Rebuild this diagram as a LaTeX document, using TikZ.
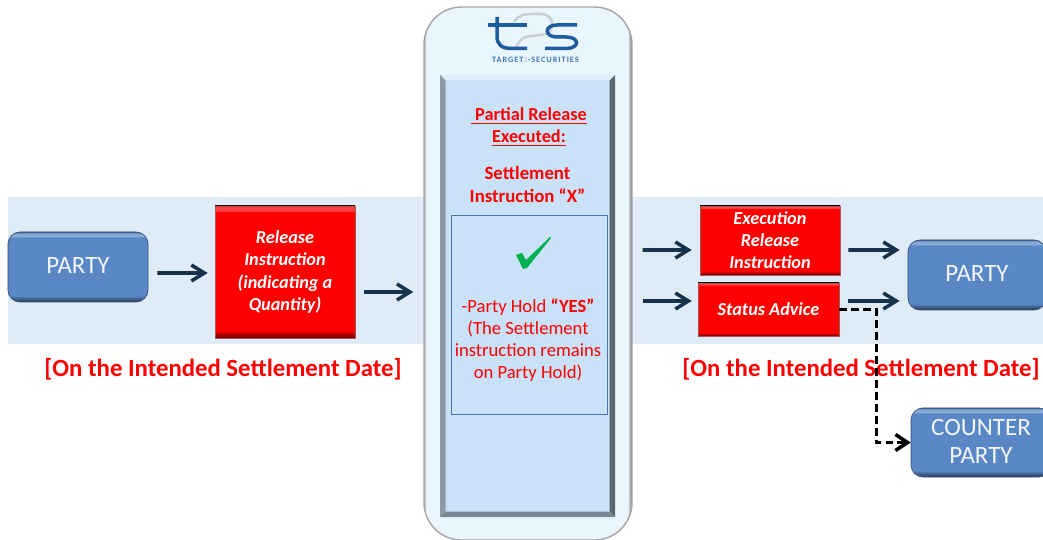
\documentclass[tikz,border=0pt]{standalone}
\usepackage{fontspec}
\setmainfont{Carlito}
\usepackage{tikz}
\usetikzlibrary{arrows.meta}

\definecolor{bandblue}{HTML}{DFEBF6}
\definecolor{panelblue}{HTML}{C9E2F8}
\definecolor{shellblue}{HTML}{EAF6FE}
\definecolor{partyblue}{HTML}{5A87C6}
\definecolor{arrownavy}{HTML}{17324D}
\definecolor{logoblue}{HTML}{1F5C9E}
\definecolor{logogrey}{HTML}{C8D0D8}
\definecolor{hardred}{HTML}{FF0000}
\definecolor{checkgreen}{HTML}{00B050}

\newcommand{\lifted}[1]{\raisebox{1.2pt}{#1}}

\pgfdeclareverticalshading{redbevel}{100bp}{color(0bp)=(red!45!black); color(25bp)=(red!45!black);
  color(26.8bp)=(red!70!black); color(27.4bp)=(hardred); color(72.8bp)=(hardred);
  color(73.2bp)=(red!75!white); color(74.6bp)=(red!75!white); color(75bp)=(red!60!black); color(100bp)=(red!60!black)}
\pgfdeclareverticalshading{bluebevel}{100bp}{color(0bp)=(partyblue!40!black); color(25bp)=(partyblue!40!black);
  color(28bp)=(partyblue!80!black); color(29.5bp)=(partyblue); color(71bp)=(partyblue);
  color(72bp)=(partyblue!70!white); color(74bp)=(partyblue!75!white); color(75bp)=(partyblue!75!black); color(100bp)=(partyblue!75!black)}
\pgfdeclarehorizontalshading{shellbevel}{100bp}{color(0bp)=(gray!60); color(25bp)=(gray!60);
  color(25.6bp)=(shellblue); color(74bp)=(shellblue);
  color(74.6bp)=(gray!80); color(75bp)=(gray); color(100bp)=(gray)}

\begin{document}
\begin{tikzpicture}
    \tikzset{partybox/.style={
      rectangle, rounded corners=0.24cm, draw=partyblue!60!black, shading=bluebevel,
      text=white!92!partyblue, align=center, inner sep=0pt,
      font=\fontsize{14.2pt}{16pt}\selectfont}}
    \tikzset{redbox/.style={
      rectangle, draw=red!35!gray, line width=0.3pt, shading=redbevel,
      text=white, align=center, inner sep=0pt,
      font=\fontsize{10.4pt}{12.6pt}\selectfont\bfseries\itshape}}
    \tikzset{datelabel/.style={
      text=hardred, font=\fontsize{14.1pt}{16pt}\selectfont\bfseries}}
    \tikzset{panelbox/.style={
      rectangle, inner sep=0pt, fill=panelblue, path picture={
        \coordinate (nw) at (path picture bounding box.north west);
        \coordinate (ne) at (path picture bounding box.north east);
        \coordinate (sw) at (path picture bounding box.south west);
        \coordinate (se) at (path picture bounding box.south east);
        \fill [white!45!panelblue] (nw) -- (ne) -- ([shift={(-0.11,-0.11)}]ne)
              -- ([shift={(0.11,-0.11)}]nw) -- cycle;
        \fill [panelblue!60!black!85!white] (nw) -- (sw) -- ([shift={(0.11,0.11)}]sw)
              -- ([shift={(0.11,-0.11)}]nw) -- cycle;
        \fill [panelblue!45!black] (ne) -- (se) -- ([shift={(-0.11,0.11)}]se)
              -- ([shift={(-0.11,-0.11)}]ne) -- cycle;
        \fill [panelblue!60!black] (sw) -- (se) -- ([shift={(-0.11,0.11)}]se)
              -- ([shift={(0.11,0.11)}]sw) -- cycle;}}}
    \tikzset{flow/.style={
      draw=arrownavy, line width=2pt, -{Straight Barb[length=2.6mm,width=3.2mm]}}}
    \tikzset{dashflow/.style={
      draw=black, line width=2pt, dash pattern=on 4.4pt off 2.4pt,
      -{Straight Barb[length=2.4mm,width=3.2mm]}}}

    \useasboundingbox (0, 0) rectangle (20.86, -10.8);

    % Background
    \path (10.51, -5.41) node [rectangle, fill=bandblue, minimum width=20.7cm,
          minimum height=2.94cm, inner sep=0pt] (band) {};

    % Platform
    \path (10.56, -5.47) node [rectangle, rounded corners=0.75cm, draw=gray!70,
          line width=0.8pt, shading=shellbevel, minimum width=4.16cm,
          minimum height=10.66cm, inner sep=0pt] (t2s) {};
    \path (10.55, -5.92) node [panelbox, minimum width=3.5cm,
          minimum height=8.84cm] (panel) {};
    \path (10.58, -6.29) node [rectangle, draw=partyblue!85!black, line width=0.4pt,
          minimum width=3.12cm, minimum height=3.98cm, inner sep=0pt] (hold) {};

    % Logo
    \draw [logogrey, line width=0.05cm] (10.28, -0.44)
          .. controls (10.36, -0.3) and (10.5, -0.28) .. (10.62, -0.28) -- (10.82, -0.28)
          .. controls (11.12, -0.28) and (11.12, -0.68) .. (10.82, -0.7) -- (10.62, -0.72)
          .. controls (10.42, -0.74) and (10.36, -0.84) .. (10.32, -0.97);
    \draw [logoblue, line width=0.07cm] (9.94, -0.34) -- (9.94, -0.72)
          .. controls (9.94, -0.9) and (10.04, -0.97) .. (10.24, -0.97) -- (10.54, -0.97);
    \draw [logoblue, line width=0.07cm] (9.76, -0.5) -- (10.54, -0.5);
    \draw [logoblue, line width=0.07cm] (11.54, -0.5) -- (11.14, -0.5)
          .. controls (10.88, -0.5) and (10.88, -0.74) .. (11.14, -0.74) -- (11.32, -0.74)
          .. controls (11.6, -0.74) and (11.6, -0.97) .. (11.32, -0.97) -- (10.9, -0.97);
    \path (10.71, -1.2) node [text=logoblue!85!white,
          font=\fontsize{4.7pt}{5pt}\selectfont\bfseries\addfontfeature{LetterSpace=12}]
          (logotext) {TARGET{\color{logogrey}2}-SECURITIES};

    % Platform text
    \path (10.58, -2.5) node [align=center, text=hardred, yshift=-0.04cm,
          font=\fontsize{10.4pt}{12.5pt}\selectfont\bfseries]
          (title) {\underline{\ Partial Release}\\\underline{Executed:}};
    \path (10.55, -3.69) node [align=center, text=hardred,
          font=\fontsize{10.7pt}{13pt}\selectfont\bfseries]
          (instr) {Settlement\\Instruction ``X''};
    \fill [checkgreen] (10.32, -5.1) -- (10.44, -5.06) -- (10.52, -5.2) -- (11.0, -4.74)
          -- (11.02, -4.76) -- (10.54, -5.36) -- (10.46, -5.38) -- cycle;
    \path (10.56, -6.8) node [align=center, text=hardred,
          font=\fontsize{10.6pt}{12.5pt}\selectfont]
          (holdtext) {-Party Hold \textbf{``YES''}\\(The Settlement\\instruction remains\\on Party Hold)};

    % Parties
    \path (1.56, -5.34) node [partybox, minimum width=2.8cm, minimum height=1.4cm]
          (party) {\lifted{PARTY}};
    \path (19.54, -5.5) node [partybox, minimum width=2.76cm, minimum height=1.4cm]
          (partyr) {\lifted{PARTY}};
    \path (19.62, -8.85) node [partybox, minimum width=2.8cm, minimum height=1.38cm]
          (counter) {\lifted{COUNTER}\\\lifted{PARTY}};

    % Messages
    \path (5.7, -5.44) node [redbox, minimum width=2.8cm, minimum height=2.64cm]
          (release) {Release\\Instruction\\(indicating a\\Quantity)};
    \path (15.4, -4.81) node [redbox, minimum width=2.8cm, minimum height=1.38cm]
          (exec) {Execution\\Release\\Instruction};
    \path (15.37, -6.19) node [redbox, minimum width=2.82cm, minimum height=1.06cm]
          (status) {Status Advice};

    % Dates
    \path (4.46, -7.38) node [datelabel] (dateleft) {[On the Intended Settlement Date]};
    \path (17.22, -7.38) node [datelabel] (dateright) {[On the Intended Settlement Date]};

    % Edges
    \draw [flow, shorten <=0.18cm, shorten >=0.14cm]
          ([yshift=-0.12cm]party.east) -- ([yshift=-0.02cm]release.west);
    \draw [flow, shorten <=0.18cm, shorten >=0.2cm]
          ([yshift=-0.4cm]release.east) -- ([yshift=-0.37cm]t2s.west);
    \draw [flow, shorten <=0.2cm, shorten >=0.16cm]
          ([yshift=0.47cm]t2s.east) -- ([yshift=-0.19cm]exec.west);
    \draw [flow, shorten <=0.2cm, shorten >=0.12cm]
          ([yshift=-0.55cm]t2s.east) -- ([yshift=0.17cm]status.west);
    \draw [flow, shorten <=0.16cm, shorten >=0.16cm]
          ([yshift=-0.19cm]exec.east) -- ([yshift=0.5cm]partyr.west);
    \draw [flow, shorten <=0.18cm, shorten >=0.16cm]
          ([yshift=0.17cm]status.east) -- ([yshift=-0.52cm]partyr.west);
    \draw [dashflow] (status.east) -- ++(0.74, 0) |- (counter.west);
\end{tikzpicture}
\end{document}
